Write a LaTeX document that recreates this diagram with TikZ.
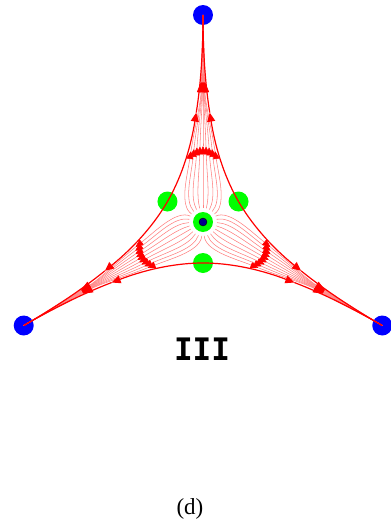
\documentclass[tikz,border=0pt]{standalone}
\usepackage{fontspec}
\newfontfamily\capfont{Liberation Serif}
\newfontfamily\labfont{DejaVu Sans Mono}
\usetikzlibrary{arrows.meta}
\begin{document}
\begin{tikzpicture}[x=1pt,y=1pt,
  flow/.style={red!50, line width=0.55pt},
  sep/.style={red, line width=1.2pt},
  tipflow/.style={-{Triangle[length=8pt,width=7pt,color=red]}},
  tipbundle/.style={-{Triangle[length=10pt,width=8pt,color=red]}},
  tipsep/.style={-{Triangle[length=9pt,width=8pt,color=red]}},
  sink/.style={circle, fill=blue, minimum size=20pt, inner sep=0pt},
  saddle/.style={circle, fill=green, minimum size=20pt, inner sep=0pt},
  source/.style={circle, fill=blue!55!black, draw=black, line width=0.4pt, minimum size=8pt, inner sep=0pt}]
\useasboundingbox (-203,-298) rectangle (188,222);
% sinks
\node[sink] (sinkT) at (90:207) {};
\node[sink] (sinkL) at (210:207) {};
\node[sink] (sinkR) at (330:207) {};
% saddles
\node[saddle] (sadR) at (30:41) {};
\node[saddle] (sadL) at (150:41) {};
\node[saddle] (sadB) at (270:41) {};
\node[saddle] (srcring) at (0,0) {};
% flow
\foreach \r in {0,120,240} {
  \begin{scope}[rotate=\r]
    \foreach \s in {-1,-0.75,-0.5,-0.25,0,0.25,0.5,0.75,1} {
      \pgfmathsetmacro\th{90+55*\s}
      \pgfmathsetmacro\mx{-12*\s}
      \pgfmathsetmacro\my{76-5*\s*\s}
      \pgfmathsetmacro\cx{-16*\s}
      \pgfmathsetmacro\dx{-8.8*\s}
      \pgfmathsetmacro\dy{\my+0.8*(\my-45)}
      \pgfmathsetmacro\nx{-2*\s}
      \draw[flow,tipflow] (\th:14) .. controls (\th:29) and (\cx,45) .. (\mx,\my);
      \draw[flow,tipbundle] (\mx,\my) .. controls (\dx,\dy) and (\nx,120) .. (\nx,140);
      \draw[flow] (\nx,140) .. controls (\nx,160) and (0,185) .. (0,207);
    }
    \foreach \m in {1,-1} {
      \begin{scope}[xscale=\m]
        \draw[sep,tipsep] (35.5,20.5) .. controls (23.5,41.26) and (13.12,69.33) .. (6.74,109.4);
        \draw[sep] (6.74,109.4) .. controls (2.48,136.14) and (0,168.2) .. (0,207);
      \end{scope}
    }
  \end{scope}
}
\node[source] (src) at (0,0) {};
\node (label) at (-1,-127) {\labfont\bfseries\fontsize{31}{34}\selectfont III};
\node (cap) at (-13,-287) {\capfont\fontsize{23}{25}\selectfont (d)};
\end{tikzpicture}
\end{document}
